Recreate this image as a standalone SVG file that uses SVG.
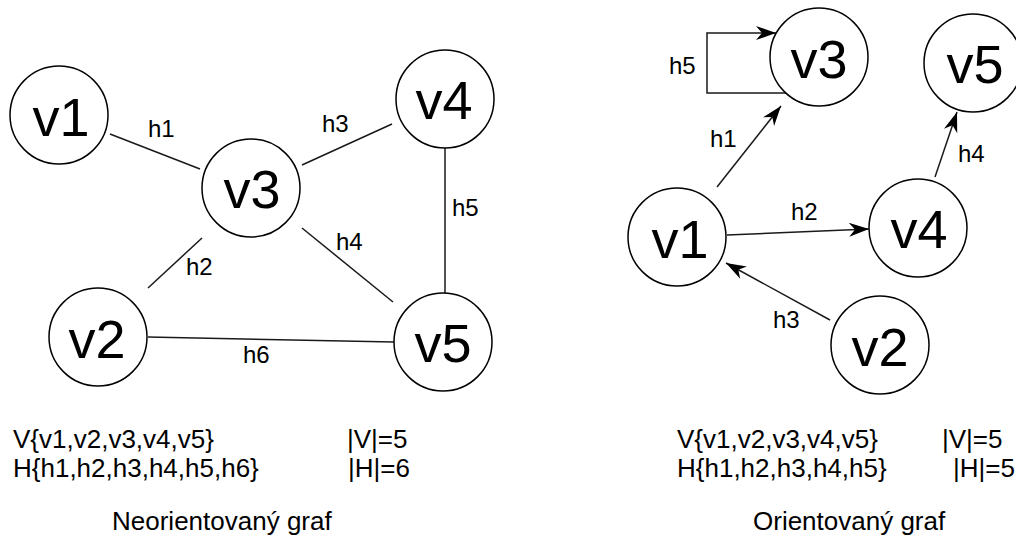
<svg xmlns="http://www.w3.org/2000/svg" width="1016" height="545" viewBox="0 0 1016 545">
  <style>
    .node circle { fill: #ffffff; stroke: #000000; stroke-width: 1.5; }
    .node text { font-family: "Liberation Sans", Arial, sans-serif; font-size: 54px; fill: #000000; text-anchor: middle; }
    .edge { fill: none; stroke: #1a1a1a; stroke-width: 1.5; }
    .lbl { font-family: "Liberation Sans", Arial, sans-serif; font-size: 24px; fill: #000000; }
    .txt { font-family: "Liberation Sans", Arial, sans-serif; font-size: 26px; fill: #000000; }
  </style>
  <defs>
    <marker id="arrow" viewBox="-21 -8 22 16" refX="0" refY="0" markerWidth="22" markerHeight="16" markerUnits="userSpaceOnUse" orient="auto">
      <path d="M0,0 L-20,-7 L-14,0 L-20,7 Z" fill="#000000"/>
    </marker>
  </defs>
  <rect width="1016" height="545" fill="#ffffff"/>

  <!-- Undirected graph: edges -->
  <g id="undirected-edges">
    <line class="edge" x1="110" y1="134" x2="200" y2="169"/>
    <line class="edge" x1="202" y1="238" x2="148" y2="288"/>
    <line class="edge" x1="302" y1="165" x2="392" y2="124"/>
    <line class="edge" x1="302" y1="228" x2="393" y2="302"/>
    <line class="edge" x1="445" y1="147" x2="445" y2="293"/>
    <line class="edge" x1="148" y1="337" x2="394" y2="342"/>
    <text class="lbl" x="148" y="137">h1</text>
    <text class="lbl" x="186" y="275">h2</text>
    <text class="lbl" x="322" y="132">h3</text>
    <text class="lbl" x="336" y="250">h4</text>
    <text class="lbl" x="452" y="216">h5</text>
    <text class="lbl" x="243" y="363">h6</text>
  </g>

  <!-- Undirected graph: nodes -->
  <g id="u-v1" class="node"><circle cx="59" cy="115" r="49"/><text x="61" y="136">v1</text></g>
  <g id="u-v2" class="node"><circle cx="98" cy="337" r="49"/><text x="97" y="358">v2</text></g>
  <g id="u-v3" class="node"><circle cx="251" cy="188" r="49"/><text x="252" y="208">v3</text></g>
  <g id="u-v4" class="node"><circle cx="445" cy="99" r="49"/><text x="444" y="119">v4</text></g>
  <g id="u-v5" class="node"><circle cx="443" cy="342" r="49"/><text x="443" y="362">v5</text></g>

  <!-- Directed graph: edges -->
  <g id="directed-edges">
    <polyline class="edge" points="786,93 707,93 707,33 776,33" marker-end="url(#arrow)"/>
    <line class="edge" x1="717" y1="187" x2="781" y2="106" marker-end="url(#arrow)"/>
    <line class="edge" x1="727" y1="235" x2="869" y2="229" marker-end="url(#arrow)"/>
    <line class="edge" x1="830" y1="320" x2="726" y2="263" marker-end="url(#arrow)"/>
    <line class="edge" x1="935" y1="177" x2="957" y2="112" marker-end="url(#arrow)"/>
    <text class="lbl" x="669" y="74">h5</text>
    <text class="lbl" x="710" y="147">h1</text>
    <text class="lbl" x="791" y="220">h2</text>
    <text class="lbl" x="773" y="328">h3</text>
    <text class="lbl" x="958" y="162">h4</text>
  </g>

  <!-- Directed graph: nodes -->
  <g id="d-v1" class="node"><circle cx="677" cy="237" r="49"/><text x="680" y="258">v1</text></g>
  <g id="d-v2" class="node"><circle cx="880" cy="345" r="49"/><text x="880" y="366">v2</text></g>
  <g id="d-v3" class="node"><circle cx="819" cy="57" r="49"/><text x="819" y="78">v3</text></g>
  <g id="d-v4" class="node"><circle cx="918" cy="228" r="49"/><text x="919" y="248">v4</text></g>
  <g id="d-v5" class="node"><circle cx="973" cy="63" r="49"/><text x="975" y="83">v5</text></g>

  <!-- Set notation and captions -->
  <g id="captions">
    <text class="txt" x="13" y="448">V{v1,v2,v3,v4,v5}</text>
    <text class="txt" x="13" y="477">H{h1,h2,h3,h4,h5,h6}</text>
    <text class="txt" x="347" y="448">|V|=5</text>
    <text class="txt" x="348" y="477">|H|=6</text>
    <text class="txt" x="112" y="530">Neorientovaný graf</text>

    <text class="txt" x="677" y="448">V{v1,v2,v3,v4,v5}</text>
    <text class="txt" x="677" y="477">H{h1,h2,h3,h4,h5}</text>
    <text class="txt" x="942" y="448">|V|=5</text>
    <text class="txt" x="953" y="477">|H|=5</text>
    <text class="txt" x="753" y="530">Orientovaný graf</text>
  </g>
</svg>
